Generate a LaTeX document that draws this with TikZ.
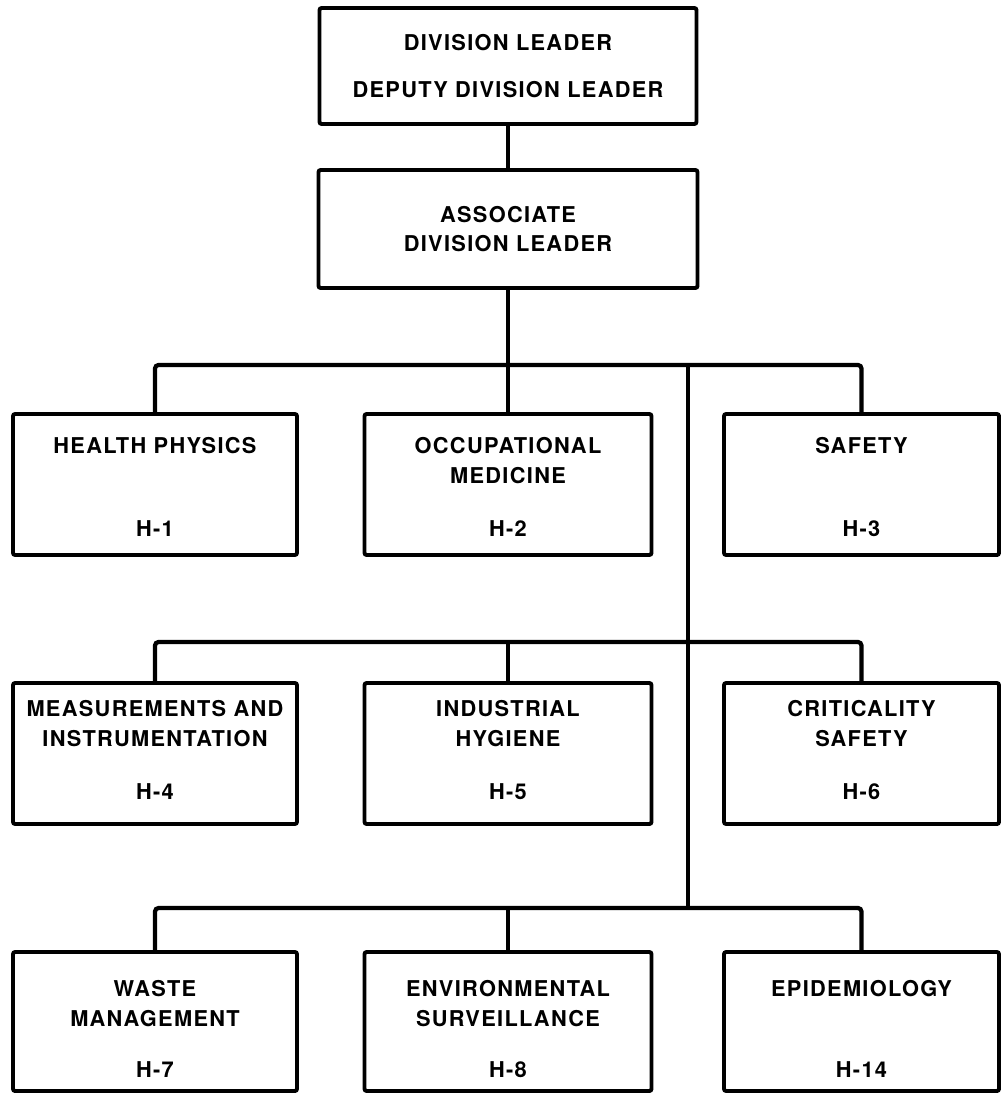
\documentclass[tikz,border=0pt]{standalone}
\usepackage{fontspec}
\newfontfamily\orgfont[LetterSpace=6]{TeX Gyre Heros}
\usetikzlibrary{positioning}

\tikzset{
  unitbox/.style={draw, line width=2.2pt, rounded corners=1.2pt, inner sep=0pt},
  orglabel/.style={font={\orgfont\bfseries\fontsize{12.4}{17}\selectfont}, align=center, inner sep=0pt},
  conn/.style={line width=2.4pt, rounded corners=2pt}
}

\begin{document}
\begin{tikzpicture}[x=0.2mm, y=-0.2mm]
    \useasboundingbox (0,0) rectangle (1002,1094);

    % Division office
    \node[unitbox, orglabel, minimum width=75.4mm, minimum height=23.2mm] (dl) at (508,66)
        {DIVISION LEADER\\[10pt]DEPUTY DIVISION LEADER};
    \node[unitbox, orglabel, minimum width=75.8mm, minimum height=23.6mm] (adl) at (508,229)
        {ASSOCIATE\\DIVISION LEADER};

    % Group boxes
    \foreach \nm/\cx/\cy/\bw/\bh in {hp/155/484.5/56.8/28.2, om/508/484.5/57.4/28.2, sf/861.5/484.5/55/28.2,
                                     mi/155/753.5/56.8/28.2, ih/508/753.5/57.4/28.2, cs/861.5/753.5/55/28.2,
                                     wm/155/1021.5/56.8/27.8, es/508/1021.5/57.4/27.8, ep/861.5/1021.5/55/27.8} {
        \node[unitbox, minimum width=\bw mm, minimum height=\bh mm] (\nm) at (\cx,\cy) {};
    }

    % Group names
    \foreach \nm/\dy/\ttl in {hp/5/HEALTH PHYSICS, om/5/{OCCUPATIONAL\\MEDICINE}, sf/5/SAFETY,
                              mi/3.8/{MEASUREMENTS AND\\INSTRUMENTATION}, ih/3.8/{INDUSTRIAL\\HYGIENE},
                              cs/3.8/{CRITICALITY\\SAFETY},
                              wm/6/{WASTE\\MANAGEMENT}, es/6/{ENVIRONMENTAL\\SURVEILLANCE}, ep/6/EPIDEMIOLOGY} {
        \node[orglabel, below=\dy mm of \nm.north] (\nm-t) {\ttl};
    }

    % Group codes
    \foreach \nm/\dy/\cd in {hp/4/H-1, om/4/H-2, sf/4/H-3,
                             mi/5.2/H-4, ih/5.2/H-5, cs/5.2/H-6,
                             wm/3/H-7, es/3/H-8, ep/3/H-14} {
        \node[orglabel, above=\dy mm of \nm.south] (\nm-c) {\cd};
    }

    % Links
    \coordinate (bus1) at (688,365);
    \coordinate (bus2) at (688,642);
    \coordinate (bus3) at (688,908);
    \draw[conn] (dl.south) -- (adl.north);
    \draw[conn] (adl.south) -- (adl.south |- bus1);
    \draw[conn] (bus1) -- (bus3);
    \foreach \l/\m/\r/\b in {hp/om/sf/bus1, mi/ih/cs/bus2, wm/es/ep/bus3} {
        \draw[conn] (\l.north) -- (\l.north |- \b) -- (\r.north |- \b) -- (\r.north);
        \draw[conn] (\m.north) -- (\m.north |- \b);
    }
\end{tikzpicture}
\end{document}
